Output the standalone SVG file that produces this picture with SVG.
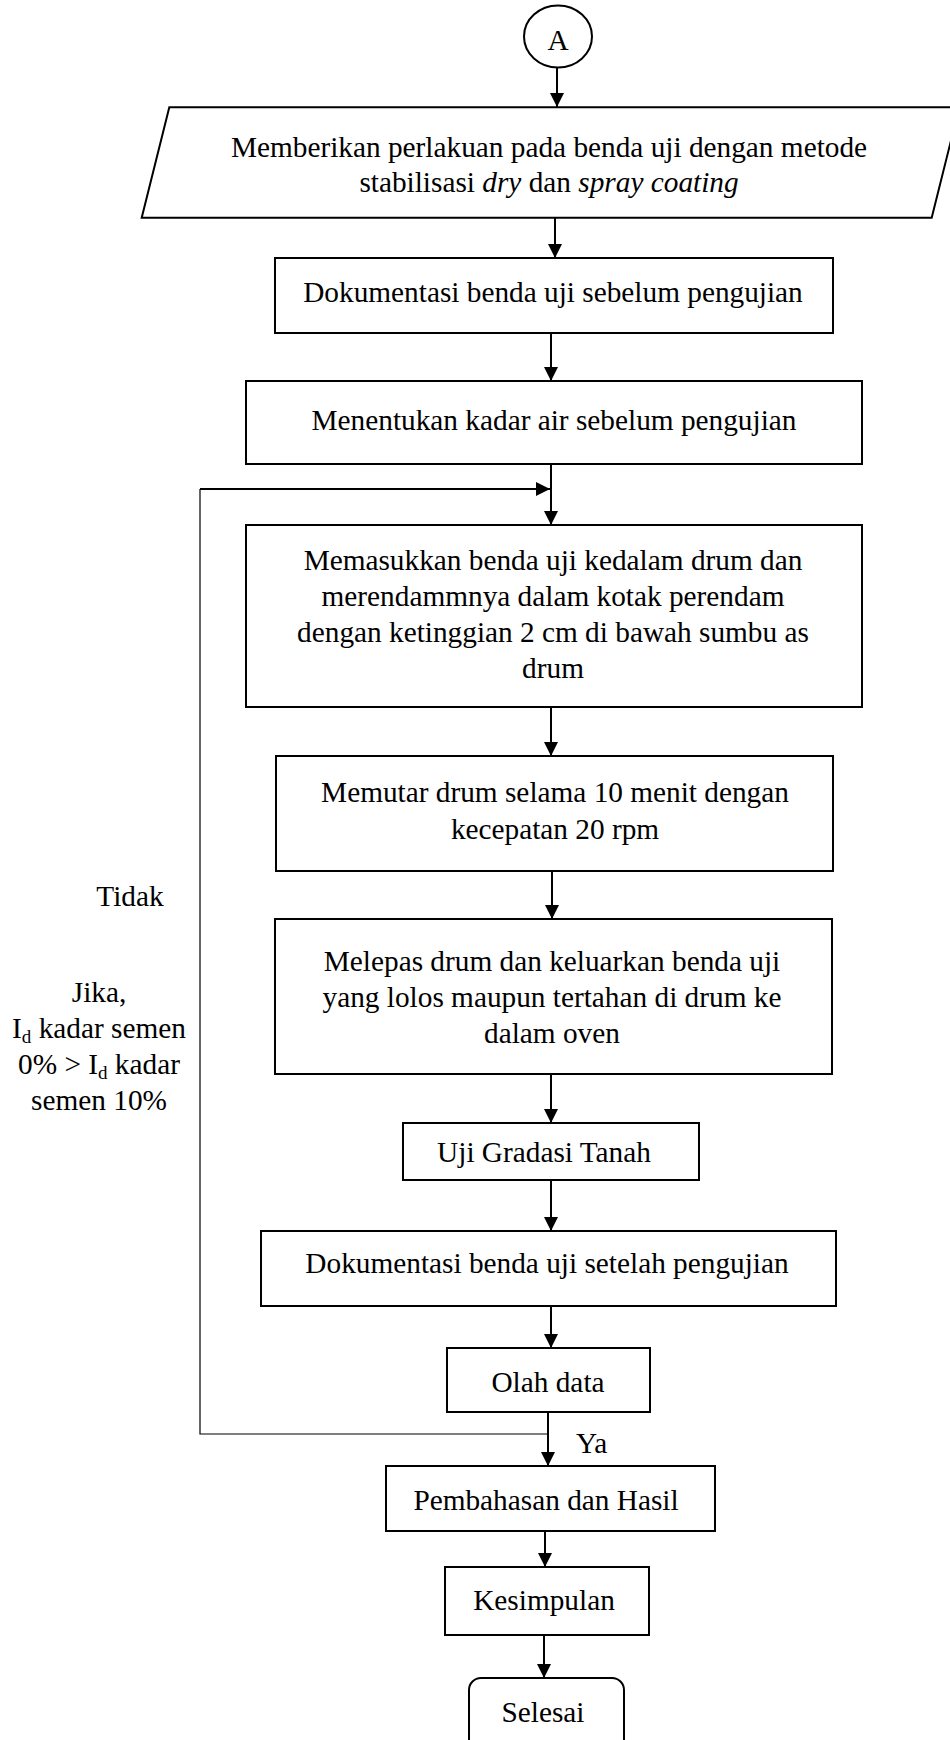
<svg xmlns="http://www.w3.org/2000/svg" width="950" height="1740" viewBox="0 0 950 1740">
<defs>
<style>
.box{fill:#fff;stroke:#000;stroke-width:2}
.t{font-family:"Liberation Serif","Times New Roman",serif;font-size:29.3px;fill:#000;text-anchor:middle}
.c{stroke:#000;stroke-width:2;fill:none}
.thin{stroke:#000;stroke-width:1.2;fill:none}
</style>
<marker id="ah" markerUnits="userSpaceOnUse" viewBox="0 0 14 14" refX="14" refY="7" markerWidth="14" markerHeight="14" orient="auto">
<path d="M0,0 L14,7 L0,14 z" fill="#000"/>
</marker>
</defs>
<rect width="950" height="1740" fill="#fff"/>
<g id="connectors">
<line class="c" x1="557" y1="68" x2="557" y2="107" marker-end="url(#ah)"/>
<line class="c" x1="555" y1="218" x2="555" y2="258" marker-end="url(#ah)"/>
<line class="c" x1="551" y1="333" x2="551" y2="381" marker-end="url(#ah)"/>
<line class="c" x1="551" y1="464" x2="551" y2="525" marker-end="url(#ah)"/>
<line class="c" x1="551" y1="707" x2="551" y2="756" marker-end="url(#ah)"/>
<line class="c" x1="552" y1="871" x2="552" y2="919" marker-end="url(#ah)"/>
<line class="c" x1="551" y1="1074" x2="551" y2="1123" marker-end="url(#ah)"/>
<line class="c" x1="551" y1="1180" x2="551" y2="1231" marker-end="url(#ah)"/>
<line class="c" x1="551" y1="1306" x2="551" y2="1348" marker-end="url(#ah)"/>
<line class="c" x1="548" y1="1412" x2="548" y2="1466" marker-end="url(#ah)"/>
<line class="c" x1="545" y1="1531" x2="545" y2="1567" marker-end="url(#ah)"/>
<line class="c" x1="544" y1="1635" x2="544" y2="1678" marker-end="url(#ah)"/>
<polyline class="thin" points="548,1434 200,1434 200,489"/>
<line class="c" x1="200" y1="489" x2="550" y2="489" marker-end="url(#ah)"/>
<text class="t" x="130" y="906">Tidak</text>
<text class="t" x="99" y="1002">Jika,</text>
<text class="t" x="99" y="1038">I<tspan font-size="19" dy="5">d</tspan><tspan dy="-5"> kadar semen</tspan></text>
<text class="t" x="99" y="1074">0% &gt; I<tspan font-size="19" dy="5">d</tspan><tspan dy="-5"> kadar</tspan></text>
<text class="t" x="99" y="1110">semen 10%</text>
<text class="t" x="576" y="1453" style="text-anchor:start">Ya</text>
</g>
<g id="nodeA">
<ellipse class="box" cx="558" cy="36.5" rx="34" ry="31"/>
<text class="t" x="558" y="50">A</text>
</g>
<g id="node-input">
<polygon class="box" points="169.3,107.3 959.3,107.3 931.7,217.7 141.7,217.7"/>
<text class="t" x="549" y="157">Memberikan perlakuan pada benda uji dengan metode</text>
<text class="t" x="549" y="192">stabilisasi <tspan font-style="italic">dry</tspan> dan <tspan font-style="italic">spray coating</tspan></text>
</g>
<g id="node2">
<rect class="box" x="275" y="258" width="558" height="75"/>
<text class="t" x="553" y="302">Dokumentasi benda uji sebelum pengujian</text>
</g>
<g id="node3">
<rect class="box" x="246" y="381" width="616" height="83"/>
<text class="t" x="554" y="430">Menentukan kadar air sebelum pengujian</text>
</g>
<g id="node4">
<rect class="box" x="246" y="525" width="616" height="182"/>
<text class="t" x="553" y="570">Memasukkan benda uji kedalam drum dan</text>
<text class="t" x="553" y="606">merendammnya dalam kotak perendam</text>
<text class="t" x="553" y="642">dengan ketinggian 2 cm di bawah sumbu as</text>
<text class="t" x="553" y="678">drum</text>
</g>
<g id="node5">
<rect class="box" x="276" y="756" width="557" height="115"/>
<text class="t" x="555" y="802">Memutar drum selama 10 menit dengan</text>
<text class="t" x="555" y="839">kecepatan 20 rpm</text>
</g>
<g id="node6">
<rect class="box" x="275" y="919" width="557" height="155"/>
<text class="t" x="552" y="971">Melepas drum dan keluarkan benda uji</text>
<text class="t" x="552" y="1007">yang lolos maupun tertahan di drum ke</text>
<text class="t" x="552" y="1043">dalam oven</text>
</g>
<g id="node7">
<rect class="box" x="403" y="1123" width="296" height="57"/>
<text class="t" x="544" y="1162">Uji Gradasi Tanah</text>
</g>
<g id="node8">
<rect class="box" x="261" y="1231" width="575" height="75"/>
<text class="t" x="547" y="1273">Dokumentasi benda uji setelah pengujian</text>
</g>
<g id="node9">
<rect class="box" x="447" y="1348" width="203" height="64"/>
<text class="t" x="548" y="1392">Olah data</text>
</g>
<g id="node10">
<rect class="box" x="386" y="1466" width="329" height="65"/>
<text class="t" x="546" y="1510">Pembahasan dan Hasil</text>
</g>
<g id="node11">
<rect class="box" x="445" y="1567" width="204" height="68"/>
<text class="t" x="544" y="1610">Kesimpulan</text>
</g>
<g id="node12">
<rect class="box" x="469" y="1678" width="155" height="80" rx="12" ry="12"/>
<text class="t" x="543" y="1722">Selesai</text>
</g>
</svg>
